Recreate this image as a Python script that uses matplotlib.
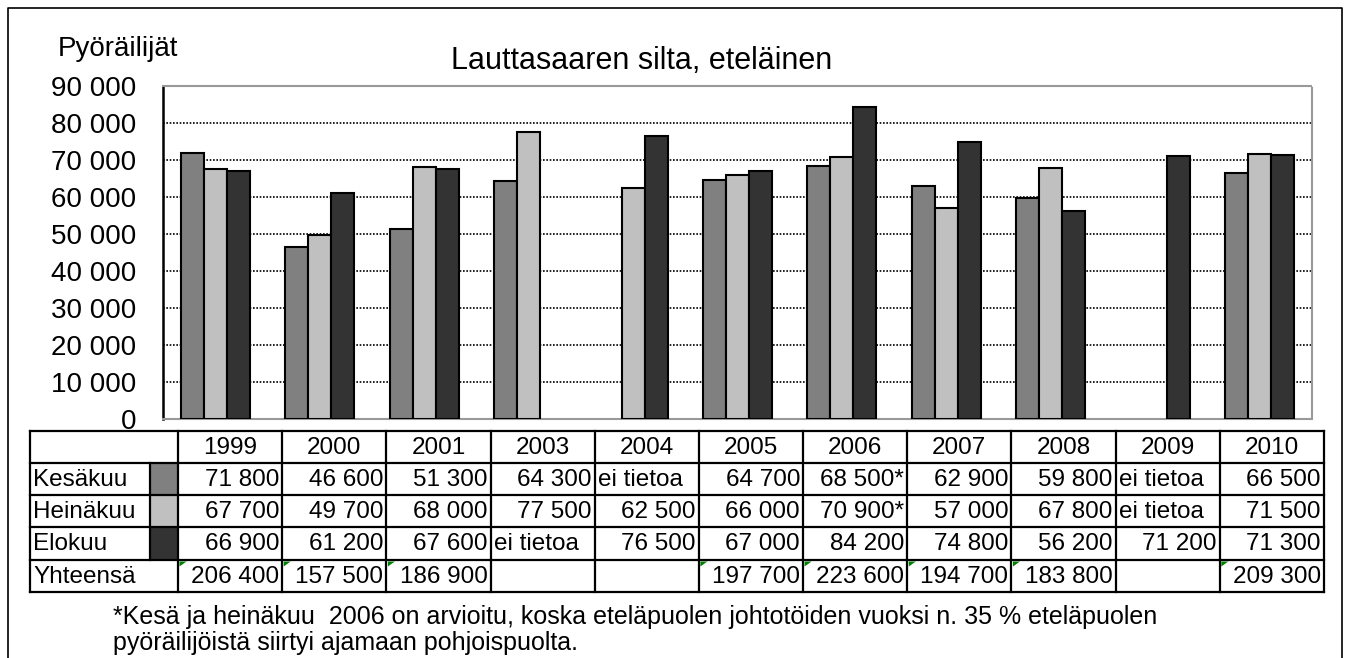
import numpy as np
import matplotlib.pyplot as plt
from matplotlib.patches import Rectangle, Polygon

plt.rcParams['font.family'] = ['Liberation Sans', 'DejaVu Sans']

# data
years = ['1999', '2000', '2001', '2003', '2004', '2005', '2006', '2007', '2008', '2009', '2010']
kesakuu = [71800, 46600, 51300, 64300, None, 64700, 68500, 62900, 59800, None, 66500]
heinakuu = [67700, 49700, 68000, 77500, 62500, 66000, 70900, 57000, 67800, None, 71500]
elokuu = [66900, 61200, 67600, None, 76500, 67000, 84200, 74800, 56200, 71200, 71300]
yhteensa = [206400, 157500, 186900, None, None, 197700, 223600, 194700, 183800, None, 209300]
estimated_year = '2006'   # kesä- ja heinäkuu arvioitu
series_names = ['Kesäkuu', 'Heinäkuu', 'Elokuu']
colors = ['#808080', '#c0c0c0', '#333333']
yticks = list(range(0, 90001, 10000))

title = 'Lauttasaaren silta, eteläinen'
ylabel = 'Pyöräilijät'
note1 = '*Kesä ja heinäkuu  2006 on arvioitu, koska eteläpuolen johtotöiden vuoksi n. 35 % eteläpuolen'
note2 = 'pyöräilijöistä siirtyi ajamaan pohjoispuolta.'


def fmt(v):
    return f"{v:,}".replace(',', ' ')


W, H = 1347, 658
fig = plt.figure(figsize=(W / 100, H / 100), dpi=100)

# bar chart
left, right, top, bottom = 163, 1312, 86, 419
ax = fig.add_axes([left / W, 1 - bottom / H, (right - left) / W, (bottom - top) / H])
x = np.arange(len(years))
bw = 0.22
for i, (vals, col) in enumerate(zip([kesakuu, heinakuu, elokuu], colors)):
    xs = [xi + (i - 1) * bw for xi, v in zip(x, vals) if v is not None]
    vs = [v for v in vals if v is not None]
    ax.bar(xs, vs, width=bw, color=col, edgecolor='black', linewidth=1.5, zorder=3)

ax.set_xlim(-0.5, len(years) - 0.5)
ax.set_ylim(0, 90000)
ax.set_yticks(yticks)
ax.set_yticklabels([fmt(v) for v in yticks], fontsize=20)
ax.set_xticks([])
ax.tick_params(axis='y', length=0, pad=19)
for v in yticks[1:-1]:
    ax.axhline(v, color='black', linestyle=(0, (1, 1)), linewidth=1.2, zorder=1)
for s in ['top', 'right', 'bottom']:
    ax.spines[s].set_color('#999999')
    ax.spines[s].set_linestyle((0, (1, 1)))
    ax.spines[s].set_linewidth(1.5)
ax.spines['left'].set_linewidth(1.8)

# overlay for table and texts (pixel coordinates)
ov = fig.add_axes([0, 0, 1, 1], zorder=5)
ov.set_xlim(0, W)
ov.set_ylim(H, 0)
ov.axis('off')
ov.patch.set_alpha(0)

# outer frame
ov.plot([7.5, 7.5, 1342, 1342], [H, 8, 8, H], color='black', linewidth=1.2)

ov.text(58, 56, ylabel, fontsize=20, ha='left', va='baseline')
ov.text(642, 69, title, fontsize=22, ha='center', va='baseline')

# table geometry
col_edges = [178 + i * (1324 - 178) / len(years) for i in range(len(years) + 1)]
row_edges = [431, 463, 495, 527, 560, 592]
tl, sw = 30, 150

# swatches
for r, col in enumerate(colors):
    ov.add_patch(Rectangle((sw, row_edges[r + 1]), 178 - sw, row_edges[r + 2] - row_edges[r + 1],
                           facecolor=col, edgecolor='none'))

lw = 1.6
for y in row_edges:
    ov.plot([tl, col_edges[-1]], [y, y], color='black', linewidth=lw, solid_capstyle='projecting')
for xe in [tl] + col_edges:
    ov.plot([xe, xe], [row_edges[0], row_edges[-1]], color='black', linewidth=lw, solid_capstyle='projecting')
ov.plot([sw, sw], [row_edges[1], row_edges[4]], color='black', linewidth=lw)

fs = 17.5
def mid(r):
    return (row_edges[r] + row_edges[r + 1]) / 2 + 1

for j, yr in enumerate(years):
    ov.text((col_edges[j] + col_edges[j + 1]) / 2, mid(0), yr, fontsize=fs, ha='center', va='center')

for r, (name, vals) in enumerate(zip(series_names, [kesakuu, heinakuu, elokuu])):
    ov.text(tl + 3, mid(r + 1), name, fontsize=fs, ha='left', va='center')
    for j, v in enumerate(vals):
        if v is None:
            ov.text(col_edges[j] + 3, mid(r + 1), 'ei tietoa', fontsize=fs, ha='left', va='center')
        else:
            s = fmt(v)
            if years[j] == estimated_year and r < 2:
                s += '*'
            ov.text(col_edges[j + 1] - 3, mid(r + 1), s, fontsize=fs, ha='right', va='center')

ov.text(tl + 3, mid(4), 'Yhteensä', fontsize=fs, ha='left', va='center')
for j, v in enumerate(yhteensa):
    if v is None:
        continue
    ov.text(col_edges[j + 1] - 3, mid(4), fmt(v), fontsize=fs, ha='right', va='center')
    x0, y0 = col_edges[j] + 1.5, row_edges[4] + 1.5
    ov.add_patch(Polygon([[x0, y0], [x0 + 7, y0], [x0, y0 + 5]], closed=True,
                         facecolor='#008000', edgecolor='none'))

ov.text(113, 624, note1, fontsize=18, ha='left', va='baseline')
ov.text(113, 650, note2, fontsize=18, ha='left', va='baseline')

fig.savefig('out.png', dpi=100)
